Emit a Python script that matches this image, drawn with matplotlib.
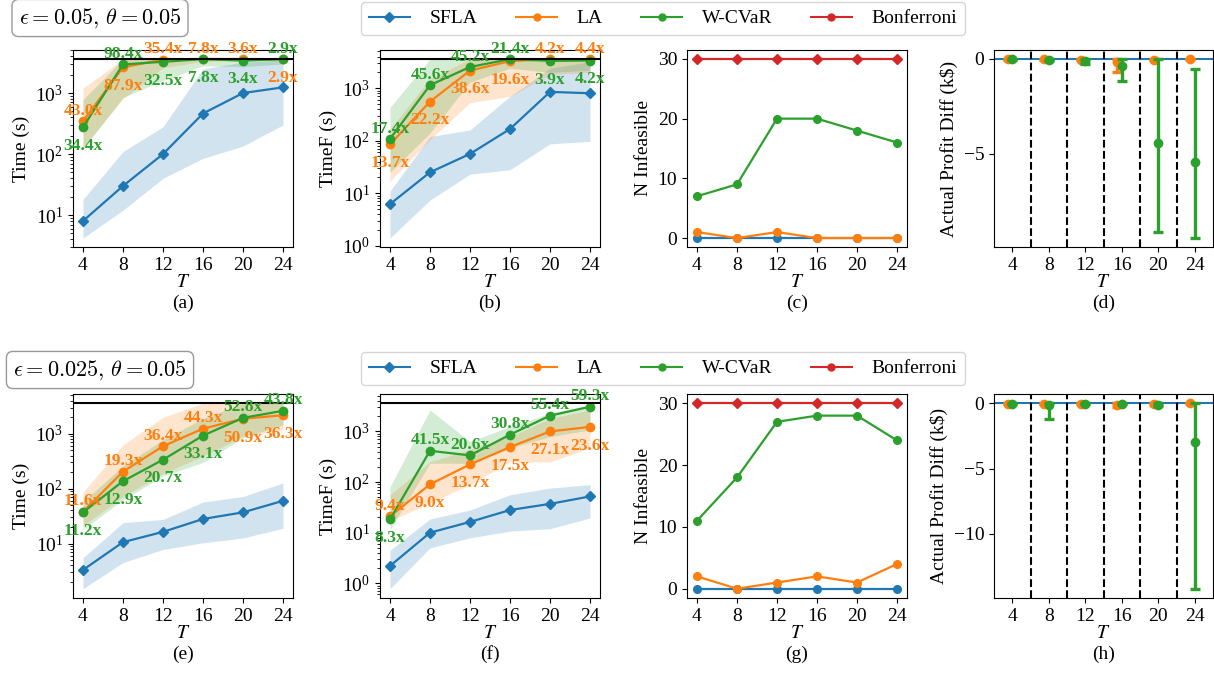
import matplotlib
matplotlib.use("Agg")
import matplotlib.pyplot as plt
from matplotlib.lines import Line2D

plt.rcParams['font.family'] = ['Liberation Serif', 'DejaVu Serif']
plt.rcParams['mathtext.fontset'] = 'stix'
plt.rcParams['font.size'] = 14

C0, C1, C2, C3 = '#1f77b4', '#ff7f0e', '#2ca02c', '#d62728'

T = [4, 8, 12, 16, 20, 24]
TIME_LIMIT = 3600

# ---- (a) Time, eps=0.05
sfla_a = [8, 30, 100, 462, 1000, 1240]
sfla_a_lo = [4.2, 12, 40, 85, 135, 300]
sfla_a_hi = [18, 110, 280, 2500, 3200, 3500]
la_a = [344, 2640, 3540, 3620, 3600, 3590]
la_a_lo = [130, 800, 2600, 3300, 3400, 3400]
la_a_hi = [1200, 3600, 3600, 3600, 3600, 3600]
w_a = [275, 2950, 3250, 3600, 3400, 3600]
w_a_lo = [120, 850, 1600, 2800, 2700, 3000]
w_a_hi = [780, 3600, 3600, 3600, 3600, 3600]
la_a_txt = ["43.0x", "87.9x", "35.4x", "7.8x", "3.6x", "2.9x"]
w_a_txt = ["34.4x", "98.4x", "32.5x", "7.8x", "3.4x", "2.9x"]

# ---- (b) TimeF, eps=0.05
sfla_b = [6.2, 25, 56, 167, 850, 800]
sfla_b_lo = [1.4, 7.4, 23, 28, 87, 97]
sfla_b_hi = [11, 120, 160, 700, 2400, 3200]
la_b = [85, 555, 2160, 3270, 3570, 3520]
la_b_lo = [17, 105, 530, 700, 1800, 2000]
la_b_hi = [165, 1500, 3600, 3600, 3600, 3600]
w_b = [108, 1140, 2530, 3570, 3315, 3360]
w_b_lo = [25, 140, 1300, 2400, 2000, 2200]
w_b_hi = [430, 3600, 3600, 3600, 3600, 3600]
la_b_txt = ["13.7x", "22.2x", "38.6x", "19.6x", "4.2x", "4.4x"]
w_b_txt = ["17.4x", "45.6x", "45.2x", "21.4x", "3.9x", "4.2x"]

# ---- (c) N infeasible, eps=0.05
sfla_c = [0, 0, 0, 0, 0, 0]
la_c = [1, 0, 1, 0, 0, 0]
w_c = [7, 9, 20, 20, 18, 16]
bonf_c = [30, 30, 30, 30, 30, 30]

# ---- (d) Actual profit diff, eps=0.05
la_d = [-0.02, -0.02, -0.03, -0.14, -0.03, -0.01]
la_d_lo = [-0.05, -0.05, -0.08, -0.70, -0.05, -0.01]
la_d_hi = [0, 0, 0, 0, 0, 0]
w_d = [-0.02, -0.05, -0.10, -0.35, -4.43, -5.46]
w_d_lo = [-0.05, -0.12, -0.25, -1.17, -9.15, -9.45]
w_d_hi = [0, 0, 0, 0, -0.02, -0.53]

# ---- (e) Time, eps=0.025
sfla_e = [3.3, 10.6, 16.3, 28, 37, 60]
sfla_e_lo = [1.5, 4.5, 7.8, 10.3, 12.6, 19]
sfla_e_hi = [5.5, 24, 27.5, 57, 72, 127]
la_e = [38, 205, 593, 1240, 1880, 2180]
la_e_lo = [21, 72, 190, 390, 900, 1180]
la_e_hi = [86, 630, 2000, 3600, 3600, 3600]
w_e = [37, 137, 337, 927, 1950, 2630]
w_e_lo = [18, 63, 170, 300, 850, 1450]
w_e_hi = [58, 260, 780, 1900, 3600, 3600]
la_e_txt = ["11.6x", "19.3x", "36.4x", "44.3x", "50.9x", "36.3x"]
w_e_txt = ["11.2x", "12.9x", "20.7x", "33.1x", "52.8x", "43.8x"]

# ---- (f) TimeF, eps=0.025
sfla_f = [2.2, 10, 16.3, 28, 37, 52]
sfla_f_lo = [0.78, 5, 7.9, 10.7, 12, 19.5]
sfla_f_hi = [4.5, 18.6, 28, 56, 76, 89]
la_f = [21, 90, 223, 490, 1000, 1230]
la_f_lo = [17, 39, 89, 250, 250, 470]
la_f_hi = [56, 250, 440, 790, 1800, 2650]
w_f = [18.3, 415, 336, 862, 2050, 3080]
w_f_lo = [11.5, 235, 235, 470, 790, 1070]
w_f_hi = [80, 2650, 630, 1250, 2300, 3300]
la_f_txt = ["9.4x", "9.0x", "13.7x", "17.5x", "27.1x", "23.6x"]
w_f_txt = ["8.3x", "41.5x", "20.6x", "30.8x", "55.4x", "59.3x"]

# ---- (g) N infeasible, eps=0.025
sfla_g = [0, 0, 0, 0, 0, 0]
la_g = [2, 0, 1, 2, 1, 4]
w_g = [11, 18, 27, 28, 28, 24]
bonf_g = [30, 30, 30, 30, 30, 30]

# ---- (h) Actual profit diff, eps=0.025
la_h = [-0.02, -0.02, -0.02, -0.15, -0.05, -0.01]
la_h_lo = [-0.05, -0.05, -0.05, -0.30, -0.10, -0.01]
la_h_hi = [0, 0, 0, 0, 0, 0]
w_h = [-0.02, -0.13, -0.02, -0.03, -0.12, -2.98]
w_h_lo = [-0.05, -1.18, -0.05, -0.08, -0.20, -14.2]
w_h_hi = [0, 0, 0, 0, 0, 0]

W, H = 1214, 679
fig = plt.figure(figsize=(W / 100, H / 100), dpi=100)


def add_ax(x0, y0, x1, y1):
    return fig.add_axes([x0 / W, 1 - y1 / H, (x1 - x0) / W, (y1 - y0) / H])


cols = [(73, 293), (380, 600), (687, 907), (994, 1213)]
rows = [(50, 247), (394, 598)]
letters = [['(a)', '(b)', '(c)', '(d)'], ['(e)', '(f)', '(g)', '(h)']]


def time_panel(ax, s, slo, shi, la, llo, lhi, w, wlo, whi, ltxt, wtxt, ylabel):
    ax.fill_between(T, slo, shi, color=C0, alpha=0.2, lw=0)
    ax.fill_between(T, llo, lhi, color=C1, alpha=0.2, lw=0)
    ax.fill_between(T, wlo, whi, color=C2, alpha=0.2, lw=0)
    ax.plot(T, s, color=C0, marker='D', ms=5.5, lw=1.6)
    ax.plot(T, la, color=C1, marker='o', ms=6, lw=1.6)
    ax.plot(T, w, color=C2, marker='o', ms=6, lw=1.6)
    ax.axhline(TIME_LIMIT, color='black', lw=1.5)
    ax.set_yscale('log')
    ax.set_xticks(T)
    ax.set_ylabel(ylabel)
    ax.set_xlabel('$T$', labelpad=0)
    for x, a, b, ta, tb in zip(T, la, w, ltxt, wtxt):
        if a >= b:
            up, dn = (a, ta, C1), (b, tb, C2)
        else:
            up, dn = (b, tb, C2), (a, ta, C1)
        ax.annotate(up[1], (x, up[0]), xytext=(0, 7.5), textcoords='offset points',
                    ha='center', va='center', color=up[2], fontweight='bold',
                    fontsize=12.5, zorder=10, annotation_clip=False)
        ax.annotate(dn[1], (x, dn[0]), xytext=(0, -13.5), textcoords='offset points',
                    ha='center', va='center', color=dn[2], fontweight='bold',
                    fontsize=12.5, zorder=10, annotation_clip=False)


def infeas_panel(ax, s, la, w, b):
    ax.plot(T, s, color=C0, marker='o', ms=5.5, lw=1.6)
    ax.plot(T, la, color=C1, marker='o', ms=5.5, lw=1.6)
    ax.plot(T, w, color=C2, marker='o', ms=5.5, lw=1.6)
    ax.plot(T, b, color=C3, marker='D', ms=5, lw=1.6)
    ax.set_xticks(T)
    ax.set_yticks([0, 10, 20, 30])
    ax.set_ylabel('N Infeasible')
    ax.set_xlabel('$T$', labelpad=0)


def profit_panel(ax, la, llo, lhi, w, wlo, whi, yt):
    ax.axhline(0, color=C0, lw=1.5, zorder=1)
    for xv in [6, 10, 14, 18, 22]:
        ax.axvline(xv, color='black', ls='--', lw=1.5, zorder=1)
    xl = [t - 0.5 for t in T]
    ax.errorbar(xl, la, yerr=[[m - lo for m, lo in zip(la, llo)], [hi - m for m, hi in zip(la, lhi)]],
                fmt='o', color=C1, ms=6, elinewidth=2.4, capsize=3.5, capthick=2.4, zorder=3)
    ax.errorbar(T, w, yerr=[[m - lo for m, lo in zip(w, wlo)], [hi - m for m, hi in zip(w, whi)]],
                fmt='o', color=C2, ms=6, elinewidth=2.4, capsize=3.5, capthick=2.4, zorder=4)
    ax.set_xlim(2, 26)
    ax.set_xticks(T)
    ax.set_yticks(yt)
    ax.set_ylabel('Actual Profit Diff (k$)')
    ax.set_xlabel('$T$', labelpad=0)


axes = [[add_ax(c[0], r[0], c[1], r[1]) for c in cols] for r in rows]

time_panel(axes[0][0], sfla_a, sfla_a_lo, sfla_a_hi, la_a, la_a_lo, la_a_hi,
           w_a, w_a_lo, w_a_hi, la_a_txt, w_a_txt, 'Time (s)')
time_panel(axes[0][1], sfla_b, sfla_b_lo, sfla_b_hi, la_b, la_b_lo, la_b_hi,
           w_b, w_b_lo, w_b_hi, la_b_txt, w_b_txt, 'TimeF (s)')
infeas_panel(axes[0][2], sfla_c, la_c, w_c, bonf_c)
profit_panel(axes[0][3], la_d, la_d_lo, la_d_hi, w_d, w_d_lo, w_d_hi, [-5, 0])

time_panel(axes[1][0], sfla_e, sfla_e_lo, sfla_e_hi, la_e, la_e_lo, la_e_hi,
           w_e, w_e_lo, w_e_hi, la_e_txt, w_e_txt, 'Time (s)')
time_panel(axes[1][1], sfla_f, sfla_f_lo, sfla_f_hi, la_f, la_f_lo, la_f_hi,
           w_f, w_f_lo, w_f_hi, la_f_txt, w_f_txt, 'TimeF (s)')
infeas_panel(axes[1][2], sfla_g, la_g, w_g, bonf_g)
profit_panel(axes[1][3], la_h, la_h_lo, la_h_hi, w_h, w_h_lo, w_h_hi, [-10, -5, 0])

for ri, r in enumerate(rows):
    for ci, c in enumerate(cols):
        ax = axes[ri][ci]
        ax.tick_params(labelsize=14)
        fig.text((c[0] + c[1]) / 2 / W, 1 - (r[1] + 56) / H, letters[ri][ci],
                 ha='center', va='center', fontsize=14)

handles = [Line2D([], [], color=C0, marker='D', ms=5, lw=1.5),
           Line2D([], [], color=C1, marker='o', ms=5, lw=1.5),
           Line2D([], [], color=C2, marker='o', ms=5, lw=1.5),
           Line2D([], [], color=C3, marker='o', ms=5, lw=1.5)]
names = ['SFLA', 'LA', 'W-CVaR', 'Bonferroni']
for ytop in [2, 352]:
    fig.legend(handles, names, ncol=4, loc='upper center', fontsize=14,
               bbox_to_anchor=(663 / W, 1 - ytop / H), handlelength=2.1,
               handletextpad=1.0, columnspacing=2.0, borderaxespad=0)

for txt, yc in [(r'$\epsilon=0.05,\, \theta=0.05$', 18),
                (r'$\epsilon=0.025,\, \theta=0.05$', 370)]:
    fig.text(100 / W, 1 - yc / H, txt, ha='center', va='center', fontsize=16,
             math_fontfamily='cm',
             bbox=dict(boxstyle='round,pad=0.3', fc='white', ec='0.6', lw=1))

fig.savefig('out.png', dpi=100)
